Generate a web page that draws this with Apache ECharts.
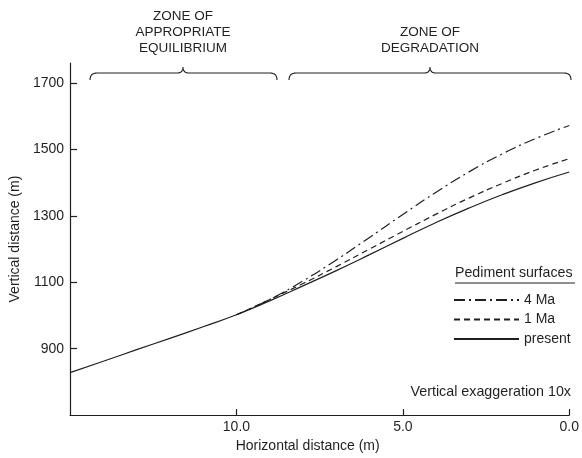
<!DOCTYPE html>
<html>
<head>
<meta charset="utf-8">
<script src="https://cdn.jsdelivr.net/npm/echarts@6/dist/echarts.min.js"></script>
<style>html,body{margin:0;padding:0;background:#fff}#c{width:582px;height:458px}</style>
</head>
<body>
<div id="c"></div>
<script>
const distances = [15,14,13,12,11,10,9,8,7,6,5,4,3,2,1,0];
const present = [828,862,897,931,966,1002,1044,1089,1135,1183,1232,1280,1324,1364,1400,1432];
const distancesPed = [10,9,8,7,6,5,4,3,2,1,0];
const ma1 = [1002,1048,1096,1147,1200,1253,1305,1354,1398,1438,1472];
const ma4 = [1002,1048,1104,1167,1235,1304,1371,1433,1487,1533,1572];
const xTicks = [0,5,10];
const yTicks = [900,1100,1300,1500,1700];
const seriesNames = ['4 Ma','1 Ma','present'];

const FONT = 'Liberation Sans, Arial, Helvetica, sans-serif';
const INK = '#231f20';
const zip = (xs, ys) => xs.map((x, i) => [x, ys[i]]);

// curly brace as polyline points (decoration)
function brace(x0, x1, xm, yLine, yEnd, yTip) {
  const pts = [];
  const q = (p0, c, p1) => {
    for (let t = 0; t <= 1.0001; t += 0.125) {
      const u = 1 - t;
      pts.push([u*u*p0[0] + 2*u*t*c[0] + t*t*p1[0], u*u*p0[1] + 2*u*t*c[1] + t*t*p1[1]]);
    }
  };
  const r = 7, rt = 6;
  q([x0, yEnd], [x0, yLine], [x0 + r, yLine]);
  q([xm - rt, yLine], [xm, yLine], [xm, yTip]);
  q([xm, yTip], [xm, yLine], [xm + rt, yLine]);
  q([x1 - r, yLine], [x1, yLine], [x1, yEnd]);
  return pts;
}

const chart = echarts.init(document.getElementById('c'), null, {renderer: 'canvas'});
chart.setOption({
  animation: false,
  backgroundColor: '#fff',
  textStyle: {fontFamily: FONT, color: INK},
  grid: {left: 68, right: 11, top: 63, bottom: 40, containLabel: false},
  xAxis: {
    type: 'value', min: 0, max: 15, interval: 5, inverse: true,
    name: 'Horizontal distance (m)', nameLocation: 'middle', nameGap: 22,
    nameTextStyle: {fontSize: 14, color: INK, fontFamily: FONT, padding: [0, 24, 0, 0]},
    axisLine: {show: true, onZero: false, lineStyle: {color: INK, width: 1.2}},
    axisTick: {show: true, inside: true, length: 6, customValues: xTicks, lineStyle: {color: INK, width: 1.2}},
    axisLabel: {show: true, customValues: xTicks, fontSize: 14, color: INK, fontFamily: FONT, margin: 5,
      formatter: v => v.toFixed(1)},
    splitLine: {show: false}
  },
  yAxis: {
    type: 'value', min: 700, max: 1760, interval: 200, position: 'left',
    name: 'Vertical distance (m)', nameLocation: 'middle', nameGap: 44, nameRotate: 90,
    nameTextStyle: {fontSize: 14, color: INK, fontFamily: FONT},
    axisLine: {show: true, onZero: false, lineStyle: {color: INK, width: 1.2}},
    axisTick: {show: true, inside: true, length: 7, customValues: yTicks, lineStyle: {color: INK, width: 1.2}},
    axisLabel: {show: true, customValues: yTicks, fontSize: 14, color: INK, fontFamily: FONT, margin: 6,
      formatter: v => String(v)},
    splitLine: {show: false}
  },
  legend: {
    orient: 'vertical', left: 448, top: 288, itemWidth: 65, itemHeight: 10, itemGap: 5.5,
    data: seriesNames,
    itemStyle: {opacity: 0},
    textStyle: {fontSize: 14, color: INK, fontFamily: FONT, padding: 0},
    selectedMode: false
  },
  graphic: [
    {type: 'text', style: {text: 'ZONE OF\nAPPROPRIATE\nEQUILIBRIUM', x: 183, y: 8, align: 'center', verticalAlign: 'top', fontSize: 13.5, lineHeight: 16, fontFamily: FONT, fill: INK}},
    {type: 'text', style: {text: 'ZONE OF\nDEGRADATION', x: 430, y: 24, align: 'center', verticalAlign: 'top', fontSize: 13.5, lineHeight: 16, fontFamily: FONT, fill: INK}},
    {type: 'polyline', shape: {points: brace(90, 277, 183, 73, 80, 67)}, style: {fill: null, stroke: INK, lineWidth: 1.1}},
    {type: 'polyline', shape: {points: brace(289, 571, 430, 73, 80, 67)}, style: {fill: null, stroke: INK, lineWidth: 1.1}},
    {type: 'text', style: {text: 'Pediment surfaces', x: 455, y: 273, align: 'left', verticalAlign: 'middle', fontSize: 14.2, fontFamily: FONT, fill: INK}},
    {type: 'line', shape: {x1: 455, y1: 283, x2: 575, y2: 283}, style: {stroke: INK, lineWidth: 1.1}},
    {type: 'text', style: {text: 'Vertical exaggeration 10x', x: 571, y: 392, align: 'right', verticalAlign: 'middle', fontSize: 14.3, fontFamily: FONT, fill: INK}}
  ],
  series: [
    {name: '4 Ma', type: 'line', data: zip(distancesPed, ma4), smooth: 0.5, symbol: 'none', showSymbol: false,
      lineStyle: {color: INK, width: 1.2, type: [11, 4, 2, 4]}, itemStyle: {color: INK}, z: 3},
    {name: '1 Ma', type: 'line', data: zip(distancesPed, ma1), smooth: 0.5, symbol: 'none', showSymbol: false,
      lineStyle: {color: INK, width: 1.2, type: [6, 4]}, itemStyle: {color: INK}, z: 3},
    {name: 'present', type: 'line', data: zip(distances, present), smooth: 0.5, symbol: 'none', showSymbol: false,
      lineStyle: {color: INK, width: 1.2, type: 'solid'}, itemStyle: {color: INK}, z: 4}
  ]
});
</script>
</body>
</html>
